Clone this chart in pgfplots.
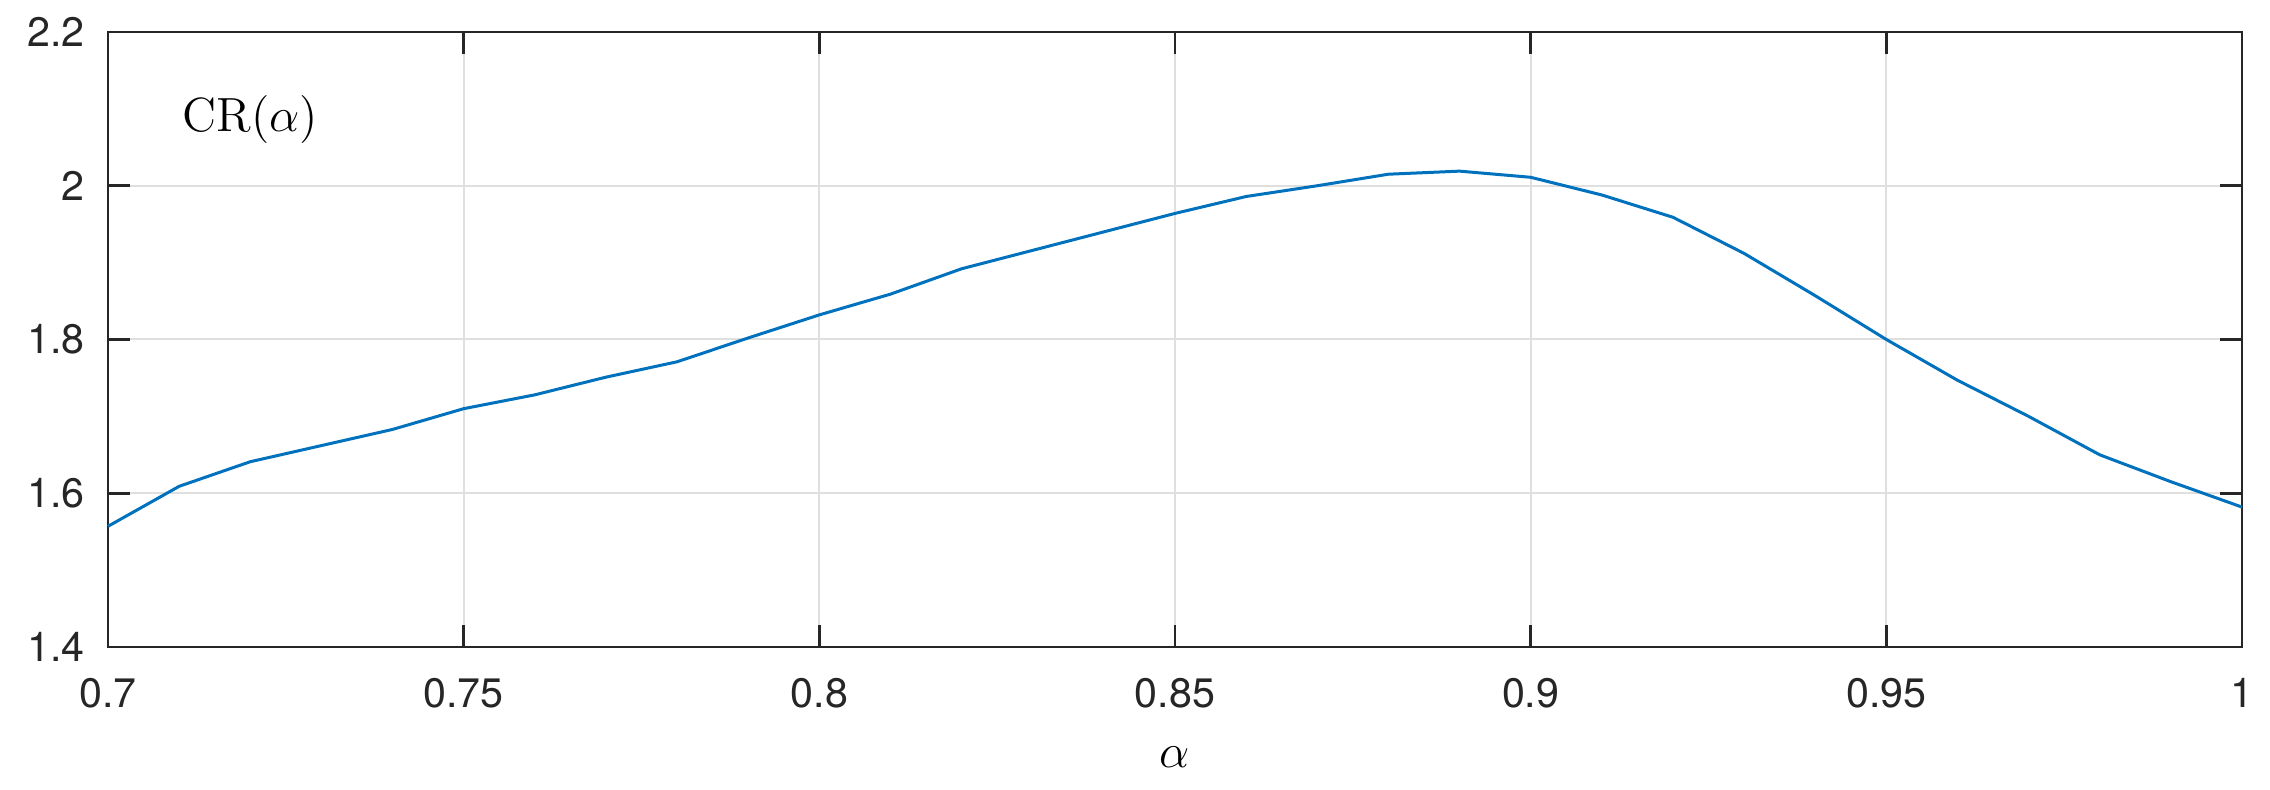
\documentclass[border=0pt]{standalone}
\usepackage[no-math]{fontspec}
\usepackage{pgfplots}
\pgfplotsset{compat=1.18}
\newfontfamily\heros{TeX Gyre Heros}
\definecolor{matblue}{HTML}{0072BD}
\definecolor{axgray}{HTML}{262626}
\definecolor{gridgray}{HTML}{DFDFDF}

\begin{document}
\begin{tikzpicture}
\path[use as bounding box] (0,0) rectangle (567.5pt,197.5pt);
\begin{axis}[
    at={(27pt,35.75pt)}, anchor=south west,
    scale only axis,
    width=533.5pt, height=153.75pt,
    xmin=0.7, xmax=1,
    ymin=1.4, ymax=2.2,
    xtick={0.7,0.75,0.8,0.85,0.9,0.95,1},
    xticklabels={0.7,0.75,0.8,0.85,0.9,0.95,1},
    ytick={1.4,1.6,1.8,2,2.2},
    yticklabels={1.4,1.6,1.8,2,2.2},
    /pgf/number format/assume math mode=true,
    tick label style={font=\heros\fontsize{10.3}{12}\selectfont, text=axgray},
    xticklabel style={yshift=-4.3pt},
    yticklabel style={xshift=-2.3pt},
    tick align=inside,
    major tick length=5.5pt,
    tick style={draw=axgray, line width=0.65pt},
    axis line style={draw=axgray, line width=0.65pt},
    grid=major,
    major grid style={draw=gridgray, line width=0.5pt},
    xlabel={$\alpha$},
    xlabel style={font=\fontsize{12.5}{14}\selectfont, at={(axis description cs:0.5,0)}, anchor=center, yshift=-27.5pt},
    clip=false,
]
\addplot[color=matblue, line width=0.75pt, no marks] coordinates {
    (0.70, 1.557) (0.71, 1.609) (0.72, 1.641) (0.73, 1.662) (0.74, 1.683)
    (0.75, 1.710) (0.76, 1.728) (0.77, 1.751) (0.78, 1.771) (0.79, 1.802)
    (0.80, 1.832) (0.81, 1.859) (0.82, 1.892) (0.83, 1.916) (0.84, 1.940)
    (0.85, 1.964) (0.86, 1.986) (0.87, 2.000) (0.88, 2.015) (0.89, 2.019)
    (0.90, 2.011) (0.91, 1.988) (0.92, 1.959) (0.93, 1.912) (0.94, 1.857)
    (0.95, 1.800) (0.96, 1.747) (0.97, 1.700) (0.98, 1.650) (0.99, 1.615)
    (1.00, 1.582)
};
\node[anchor=base west, inner sep=0pt, font=\fontsize{12.5}{14}\selectfont] at (axis cs:0.7104,2.071) {$\mathrm{CR}(\alpha)$};
\end{axis}
\end{tikzpicture}
\end{document}
